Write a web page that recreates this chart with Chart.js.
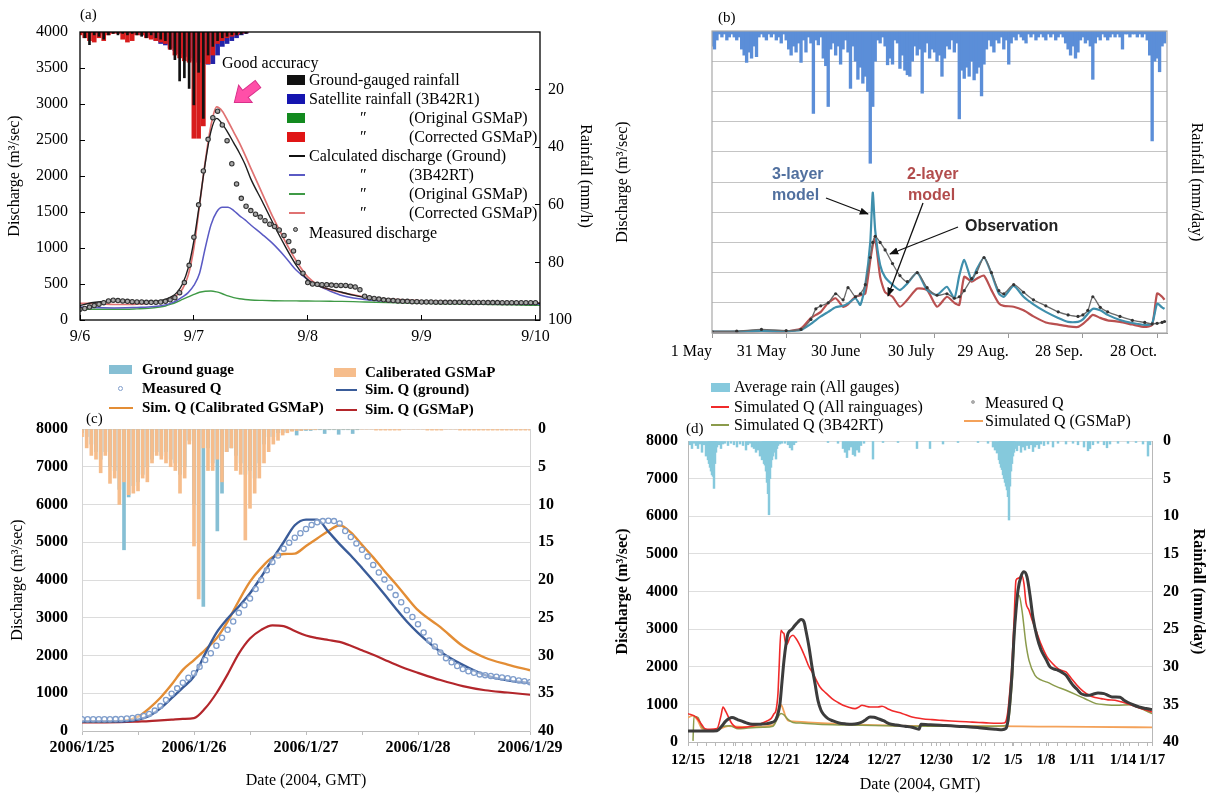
<!DOCTYPE html>
<html><head><meta charset="utf-8">
<script src="https://cdn.jsdelivr.net/npm/chart.js@4.4.1/dist/chart.umd.min.js"></script>
<style>
html,body{margin:0;padding:0;background:#fff;}
#wrap{position:relative;width:1208px;height:795px;overflow:hidden;font-family:'Liberation Serif','Times New Roman',serif;color:#000;}
canvas{position:absolute;}
.t{position:absolute;white-space:nowrap;line-height:1;transform:translateY(-50%);font-size:16px;}
.s{position:absolute;}
</style></head><body><div id="wrap">
<canvas id="ca" width="600" height="350" style="left:0;top:0"></canvas>
<canvas id="cb" width="608" height="370" style="left:600px;top:0"></canvas>
<canvas id="cc" width="600" height="440" style="left:0;top:355px"></canvas>
<canvas id="cd" width="608" height="425" style="left:600px;top:370px"></canvas>
</div>
<script>
// ---------------- Panel (a) data ----------------
const aTickDay = [0,1,2,3,4];
const aTickLab = ['9/6','9/7','9/8','9/9','9/10'];
const aT = [0,0.1,0.2,0.3,0.4,0.5,0.6,0.7,0.75,0.8,0.85,0.9,0.95,1.0,1.05,1.1,1.15,1.2,1.25,1.3,1.35,1.4,1.45,1.5,1.6,1.7,1.8,1.9,2.0,2.1,2.2,2.3,2.4,2.5,2.6,2.8,3.0,3.2,3.4,3.6,3.8,4.0,4.04];
const aQGround = [200,240,255,262,258,252,250,268,285,320,380,500,720,1100,1620,2180,2620,2800,2720,2600,2460,2320,2160,1960,1650,1330,1030,760,560,470,425,385,345,315,295,272,260,252,246,240,235,232,232];
const aQCorr = [230,232,222,215,215,220,230,250,270,300,345,430,620,1000,1600,2200,2700,2960,2900,2760,2610,2460,2290,2110,1760,1410,1100,820,600,480,420,380,350,322,302,282,266,256,250,245,240,236,236];
const aQ3B42 = [180,175,170,168,170,175,180,195,210,235,270,320,380,480,650,1000,1320,1500,1565,1565,1520,1450,1390,1320,1190,1050,880,690,560,470,400,340,305,285,270,255,245,238,232,228,224,220,220];
const aQOrig = [150,150,150,150,150,155,162,180,195,220,250,285,320,355,385,400,403,390,365,335,310,295,285,278,272,268,266,265,264,262,260,258,255,250,246,240,232,226,220,215,210,205,205];
const aMeasStep = 1/24; // hourly
const aMeasQ = [150,160,180,200,220,240,265,275,270,265,260,255,250,250,245,245,245,250,260,280,310,380,520,760,1150,1600,2070,2510,2810,2900,2710,2490,2170,1890,1690,1580,1520,1470,1430,1380,1330,1300,1250,1175,1090,960,800,650,520,500,495,490,490,485,480,480,480,470,460,420,330,310,300,290,280,275,270,265,260,260,255,255,250,250,250,248,248,246,246,245,245,245,244,244,243,243,242,242,242,241,241,240,240,240,240,240,240];
const aRainStep = 1/24; // hourly (mm/h)
const aRainGround = [0,2,4.4,1,1.5,2.5,1,0.5,1,0.5,1,0.5,1,1.5,2,1,2,2.5,3,6,9.6,17,15.9,19.6,25.3,14,30,8,5,3,2,1.5,1,1,0.8,0.5];
const aRainSat = [0,0,0.3,0.5,0.3,0.5,0.3,0.2,0.3,0.5,0.5,0.8,0.5,1,1.5,2,3,4,4.5,5.5,6.5,7.5,8.5,9,10,10.5,11,11.2,11,8,5,4,3,2,1,0.5];
const aRainCorr = [1,2,3,3.5,2,3,1,0.5,0.5,2.5,3.5,3,1,1,2,2.5,3,3.5,4,6,8,9,10,10.5,36.9,36.9,32.6,11,8,4,3,2,1.5,1,0.5,0.3];

// ---------------- Panel (b) data ----------------
const bTickDay = [0,30,60,90,120,150,180];
const bTickLab = ['1 May','31 May','30 June','30 July','29 Aug.','28 Sep.','28 Oct.'];
const bDays = [0,10,20,30,36,40,42,44,47,50,53,55,58,60,62,64,65,66,68,70,73,76,79,83,87,91,95,98,100,102,105,107,110,113,116,118,122,126,130,135,140,144,148,150,152,154,157,160,165,170,175,178,180,182,183];
const b3Layer = [0.05,0.05,0.07,0.06,0.1,0.3,0.43,0.55,0.7,0.85,0.9,0.98,1.15,0.93,1.6,3.0,4.65,3.4,2.25,1.85,1.6,1.42,1.64,2.0,1.42,1.26,1.53,1.15,1.9,2.42,1.75,2.1,2.5,1.97,1.31,1.2,1.56,1.2,0.95,0.7,0.5,0.37,0.37,0.45,0.64,0.8,0.75,0.6,0.43,0.33,0.27,0.32,0.97,0.85,0.8];
const b2Layer = [0.04,0.04,0.06,0.05,0.15,0.5,0.6,0.7,1.0,1.15,0.87,0.95,1.2,1.25,1.31,2.4,2.9,3.13,1.86,1.35,1.2,0.87,1.1,1.47,1.42,0.87,1.2,1.0,0.93,1.86,1.7,1.8,1.9,1.42,0.98,0.9,0.87,0.75,0.55,0.35,0.28,0.22,0.2,0.3,0.45,0.6,0.5,0.42,0.37,0.28,0.2,0.27,1.31,1.2,1.1];
const bObs = [0.05,0.06,0.12,0.08,0.12,0.45,0.8,0.9,1.0,1.3,1.1,1.5,1.2,1.3,1.6,2.5,3.0,3.2,3.0,2.75,2.3,1.9,1.7,2.0,1.5,1.25,1.3,1.15,1.2,1.4,1.8,2.0,2.5,2.0,1.4,1.3,1.6,1.35,1.1,0.9,0.7,0.6,0.55,0.6,0.75,1.2,0.85,0.7,0.55,0.42,0.35,0.3,0.32,0.35,0.38];
const bRainDaily = [
0.5,0.6,0.3,0.1,0.2,0.1,0.3,0.2,0.1,0.2,
0.3,0.2,0.6,0.8,1.04,0.7,0.9,0.5,0.85,0.2,
0.1,0.2,0.3,0.1,0.2,0.1,0.3,0.2,0.4,0.1,
0.3,0.6,0.8,0.5,0.7,0.4,1.04,0.3,0.7,0.2,
0.4,2.73,0.3,0.46,0.2,0.9,1.15,2.5,0.6,0.4,
0.8,0.5,1.1,0.6,0.3,0.7,1.9,0.5,1.0,1.6,
1.2,1.73,1.5,2.0,4.38,2.5,1.0,0.3,0.4,0.2,
0.5,1.12,0.9,1.1,0.3,0.4,1.24,0.8,1.3,1.45,
1.5,1.0,0.5,0.8,0.6,2.06,0.7,0.4,0.9,0.6,
0.7,1.0,0.8,1.5,0.9,0.5,0.6,0.3,0.7,0.4,
2.91,1.3,1.57,1.2,1.5,1.0,1.62,1.4,1.2,2.15,
1.1,0.6,0.3,0.5,0.7,0.3,0.4,0.2,0.6,0.3,
1.1,0.4,0.2,0.3,0.1,0.2,0.3,0.4,0.1,0.2,
0.1,0.3,0.2,0.1,0.2,0.3,0.1,0.2,0.1,0.3,
0.2,0.1,0.2,0.4,0.6,0.8,0.5,0.9,0.7,0.3,
0.2,0.4,0.3,0.5,1.6,0.4,0.2,0.3,0.1,0.2,
0.3,0.2,0.1,0.2,0.1,0.2,0.6,0.1,0.1,0.2,
0.1,0.1,0.2,0.1,0.2,0.1,0.3,0.8,3.64,1.0,
0.9,1.35,0.5,0.4];

// ---------------- Panel (c) data ----------------
const cTickDay = [0,1,2,3,4];
const cTickLab = ['2006/1/25','2006/1/26','2006/1/27','2006/1/28','2006/1/29'];
const cT = [0,0.2,0.4,0.5,0.6,0.7,0.8,0.9,1.0,1.1,1.2,1.3,1.4,1.5,1.6,1.7,1.8,1.9,2.0,2.1,2.2,2.3,2.4,2.5,2.6,2.7,2.8,2.9,3.0,3.2,3.4,3.6,3.8,4.0];
const cQGround = [250,250,260,300,400,600,870,1150,1450,2050,2600,2980,3300,3650,4080,4550,5000,5450,5600,5600,5280,4950,4650,4320,3980,3620,3250,2900,2600,2100,1750,1480,1340,1270];
const cQCal = [250,250,280,380,600,880,1230,1620,1880,2150,2450,2900,3450,3956,4320,4600,4690,4700,4900,5100,5300,5450,5260,4930,4600,4240,3900,3540,3200,2750,2250,1940,1760,1610];
const cQGsmap = [230,230,240,250,260,280,300,320,340,600,1000,1500,2050,2450,2680,2800,2780,2650,2530,2460,2410,2360,2260,2140,2020,1890,1760,1640,1540,1350,1190,1080,1020,960];
const cMeasStep = 0.05;
const cMeasQ = [310,310,310,310,310,310,315,320,330,345,370,400,450,540,660,820,990,1130,1280,1410,1530,1700,1880,2060,2260,2470,2680,2900,3130,3330,3510,3760,4000,4260,4480,4650,4830,4990,5120,5240,5350,5460,5530,5560,5570,5560,5500,5300,5140,4970,4800,4620,4400,4200,4010,3800,3600,3410,3200,3020,2830,2610,2400,2240,2080,1930,1820,1720,1640,1580,1540,1500,1480,1460,1440,1420,1400,1370,1340,1320,1290];
const cRainStep = 1/24; // hourly (mm/h)
const cRainCal = [1,2.5,3.5,4,5.8,3.5,7.2,6.5,10,7,8.7,8.5,8.2,6.5,7,4.5,3.5,4,4.5,5,5.5,8.5,6.5,2,15.5,22.5,2.5,5.5,5.5,4,7,3,2.5,5.5,6,14.7,10.5,8.5,6.5,4.5,3,2,1.5,0.8,0.5,0.3,0.2,0.2,0.1,0.1,0.1,0,0,0,0,0,0,0,0,0,0,0,0,0.15,0.15,0.15,0.15,0.15,0.15,0,0,0,0,0,0.15,0.15,0.15,0.15,0,0,0,0.15,0.15,0.15,0.15,0.15,0.15,0.15,0.15,0.15,0.15,0.15,0.15,0.15,0.15,0.15,0.15];
const cRainGround = [0.5,1,2,3,4,3,5,5.5,8,16,9,7.5,7,6,5,4,3,3.5,3,4,4.5,6,5,1.5,10,15,23.5,2.5,4.5,13.5,8.5,3,2.5,3.5,4.5,6,5.5,6.5,4.5,2,1,1,0.5,0.5,0.3,0.2,0.8,0.2,0.2,0.2,0.1,0.1,0.6,0.1,0.1,0.7,0.1,0.1,0.6,0.1];

// ---------------- Panel (d) data (x = record number) ----------------
const dTickRec = [0,47,95,144,196,248,293,325,358,394,435,464];
const dTickLab = ['12/15','12/18','12/21','12/24','12/27','12/30','1/2','1/5','1/8','1/11','1/14','1/17'];
const dMeasRec = [0,10,20,29,33,38,44,50,56,62,67,73,79,84,88,92,94,96,98,100,104,107,110,113,116,118,121,124,127,130,133,136,140,145,151,158,164,170,174,178,182,186,190,196,201,208,217,224,231,233,240,247,255,263,272,282,291,301,308,314,318,320,322,324,326,328,330,333,336,339,342,345,349,353,358,362,366,370,374,378,382,385,389,393,397,401,405,410,416,420,424,428,432,436,440,445,451,458,464];
const dMeasQ = [293,290,290,300,400,560,650,590,532,480,470,475,488,520,600,1020,1600,2173,2600,2882,3000,3104,3190,3255,3193,2950,2528,2000,1552,1100,843,720,621,560,505,480,470,490,532,600,665,660,621,560,488,450,417,390,340,470,460,450,440,430,415,400,380,355,340,328,360,576,1100,1800,2794,3500,4035,4400,4523,4390,3900,3300,2794,2450,2200,1996,1940,1907,1850,1774,1620,1508,1400,1286,1250,1242,1270,1300,1286,1240,1197,1197,1190,1110,1050,990,931,890,860];
const dAllRec = [0,8,14,17,22,29,33,35,38,44,50,59,71,79,83,86,88,90,91,93,95,96,97,99,102,105,108,111,114,117,121,125,132,138,144,150,155,160,167,171,174,178,182,186,190,194,200,205,214,224,234,244,254,263,272,282,291,301,310,316,318,320,322,324,326,328,330,332,334,336,338,341,344,348,353,359,364,370,374,378,383,389,395,401,407,413,420,427,433,439,446,452,458,464];
const dAllQ = [754,665,450,355,340,355,700,931,798,488,381,400,470,560,621,750,843,1300,1907,2971,2900,2882,2700,2599,2780,2838,2750,2616,2450,2262,2000,1818,1463,1300,1153,1050,976,930,887,930,976,950,931,931,931,949,880,825,760,665,620,594,575,559,545,532,520,505,500,505,560,843,1400,2084,3200,4300,4350,4380,4420,4200,3700,3503,3250,2971,2600,2262,2100,1951,1900,1862,1700,1508,1350,1242,1180,1153,1120,1109,1070,1020,960,900,850,798];
const dTrmmRec = [5,6,10,14,20,28,35,42,50,60,75,85,89,91,93,96,100,105,115,130,160,200,230,260,300,316,320,324,328,331,334,338,341,347,353,359,368,378,388,397,408,418,428,443,452,464];
const dTrmmQ = [30,680,650,400,300,320,420,430,350,370,390,420,600,700,760,720,600,520,500,470,450,430,420,420,420,430,500,1500,3500,3900,3500,2600,2170,1770,1650,1590,1480,1375,1260,1150,1020,990,976,990,900,754];
const dGsmRec = [0,5,10,14,20,30,40,60,85,88,90,92,94,96,98,101,105,120,150,200,250,300,350,400,464];
const dGsmQ = [650,700,560,350,300,330,420,400,450,600,850,1000,950,800,650,560,550,520,480,440,420,420,410,400,390];
const dRainRec = [2,4,6,8,10,12,14,16,18,20,21,22,23,24,25,26,27,28,29,31,33,35,37,40,43,46,49,52,55,58,60,62,64,66,68,70,72,74,75,76,77,78,79,80,81,82,83,84,85,86,87,88,89,90,92,94,97,100,102,104,106,108,140,150,155,157,159,161,163,165,167,169,171,173,176,185,195,210,229,242,255,270,290,300,305,307,309,311,312,313,314,315,316,317,318,319,320,321,322,323,324,325,326,327,329,331,333,335,337,339,341,343,345,347,349,351,353,356,360,365,370,378,385,390,396,400,402,405,410,416,419,422,430,440,448,455,460,462];
const dRainMm = [0.5,1.0,0.3,0.6,1.0,0.4,1.5,0.5,2.0,2.5,3.0,3.5,4.0,4.5,4.7,6.3,3.0,1.5,0.8,0.5,1.0,0.4,0.3,0.6,0.3,0.5,0.8,0.4,0.6,1.2,0.5,0.3,0.8,1.0,1.5,1.2,2.0,2.5,1.8,3.0,3.2,4.0,5.5,7.0,9.8,5.0,3.5,2.5,2.0,1.5,1.2,2.4,1.0,0.6,0.4,0.3,0.3,0.5,0.9,1.2,0.5,0.2,0.2,0.3,1.0,1.5,2.2,1.2,0.8,1.8,2.0,1.2,1.5,0.6,0.3,2.4,0.2,0.2,1.0,1.0,0.4,0.2,0.2,0.3,0.8,1.2,1.6,2.5,3.0,3.5,3.8,4.5,5.0,5.5,6.0,6.5,7.4,10.5,6.0,4.0,3.0,2.0,1.5,1.0,1.3,0.6,1.5,0.8,1.2,0.6,1.0,0.5,1.4,0.8,0.5,1.0,0.4,0.6,0.4,0.8,0.3,0.4,0.3,0.5,0.8,1.3,1.0,0.5,0.3,0.5,0.9,0.4,0.3,0.3,0.2,0.4,2.0,0.5];

// ---------------- helpers ----------------
const xy = (xs, ys) => ys.map((y, i) => ({x: xs[i], y}));
const stepped = (vals, step) => vals.map((y, i) => ({x: i * step, y}));
const SERIF = "'Liberation Serif','Times New Roman',serif";
Chart.defaults.font.family = SERIF;
Chart.defaults.font.size = 16;
Chart.defaults.color = '#000';
Chart.defaults.animation = false;
Chart.defaults.responsive = false;
Chart.defaults.devicePixelRatio = 1;
Chart.defaults.plugins.legend.display = false;
Chart.defaults.plugins.tooltip.enabled = false;
Chart.defaults.elements.point.radius = 0;
Chart.defaults.elements.line.borderJoinStyle = 'round';

Chart.register({
  id: 'frame',
  afterDraw(chart, args, o) {
    if (!o || !o.color) return;
    const {ctx, chartArea: a} = chart;
    ctx.save();
    ctx.strokeStyle = o.color; ctx.lineWidth = o.width || 1;
    ctx.strokeRect(a.left, a.top, a.right - a.left, a.bottom - a.top);
    ctx.restore();
  }
});
const W = w => s => { s.width = w; };
const H = h => s => { s.height = h; };
const num = v => String(v);

// ---------------- Panel (a) ----------------
new Chart(document.getElementById('ca'), {
  type: 'line',
  data: {datasets: [
    {data: stepped(aMeasQ, aMeasStep), showLine: false, pointRadius: 2.2, pointBorderWidth: 1.1, pointBorderColor: '#333', pointBackgroundColor: '#a8a8a8', yAxisID: 'y'},
    {data: xy(aT, aQGround), borderColor: '#1e1e1e', borderWidth: 1.4, cubicInterpolationMode: 'monotone', yAxisID: 'y'},
    {data: xy(aT, aQCorr), borderColor: '#e07272', borderWidth: 1.7, cubicInterpolationMode: 'monotone', yAxisID: 'y'},
    {data: xy(aT, aQ3B42), borderColor: '#5a5ac4', borderWidth: 1.5, cubicInterpolationMode: 'monotone', yAxisID: 'y'},
    {data: xy(aT, aQOrig), borderColor: '#3f9a46', borderWidth: 1.4, cubicInterpolationMode: 'monotone', yAxisID: 'y'},
    {type: 'bar', data: stepped(aRainGround, aRainStep), backgroundColor: '#111', barThickness: 2, grouped: false, yAxisID: 'y2'},
    {type: 'bar', data: stepped(aRainCorr, aRainStep), backgroundColor: '#d81c1c', barThickness: 4, grouped: false, yAxisID: 'y2'},
    {type: 'bar', data: stepped(aRainSat, aRainStep), backgroundColor: '#2424a8', barThickness: 4, grouped: false, yAxisID: 'y2'}
  ]},
  options: {
    layout: {padding: {top: 32, left: 0, right: 0, bottom: 0}},
    scales: {
      x: {type: 'linear', offset: false, min: 0, max: 4.04, afterFit: H(30),
          afterBuildTicks: s => { s.ticks = aTickDay.map(v => ({value: v})); },
          ticks: {callback: v => aTickLab[aTickDay.indexOf(v)] ?? '', padding: 12, autoSkip: false, maxRotation: 0},
          grid: {offset: false, drawOnChartArea: false, tickLength: -5, color: '#000'}, border: {display: false}},
      y: {min: 0, max: 4000, afterFit: W(80),
          ticks: {stepSize: 500, callback: num, padding: 17},
          grid: {drawOnChartArea: false, tickLength: -5, color: '#000'}, border: {display: false},
          title: {display: true, text: 'Discharge (m³/sec)', font: {size: 16}, padding: {top: 5}}},
      y2: {position: 'right', reverse: true, min: 0, max: 100, afterFit: W(60),
          afterBuildTicks: s => { s.ticks = [20,40,60,80,100].map(v => ({value: v})); },
          ticks: {callback: num, padding: 13},
          grid: {drawOnChartArea: false, tickLength: -5, color: '#000'}, border: {display: false},
          title: {display: true, text: 'Rainfall (mm/h)', font: {size: 16}, padding: {top: 5}}}
    },
    plugins: {frame: {color: '#000', width: 1.3}}
  }
});

// ---------------- Panel (b) ----------------
new Chart(document.getElementById('cb'), {
  type: 'line',
  data: {datasets: [
    {data: xy(bDays, bObs), borderColor: '#6a6a6a', borderWidth: 1.3, pointRadius: 1.6, pointBackgroundColor: '#333', pointBorderWidth: 0, tension: 0.25, yAxisID: 'y'},
    {data: xy(bDays, b3Layer), borderColor: '#3f8fac', borderWidth: 2.2, tension: 0.2, yAxisID: 'y'},
    {data: xy(bDays, b2Layer), borderColor: '#b95050', borderWidth: 2.2, tension: 0.2, yAxisID: 'y'},
    {type: 'bar', data: stepped(bRainDaily, 1), backgroundColor: '#5b8ed8', barThickness: 2.7, yAxisID: 'y2'}
  ]},
  options: {
    layout: {padding: {top: 31, left: 0, right: 0, bottom: 0}},
    scales: {
      x: {type: 'linear', offset: false, min: 0, max: 184, afterFit: H(37),
          afterBuildTicks: s => { s.ticks = bTickDay.map(v => ({value: v})); },
          ticks: {callback: v => bTickLab[bTickDay.indexOf(v)] ?? '', align: 'end', padding: 4, autoSkip: false, maxRotation: 0},
          grid: {offset: false, drawOnChartArea: false, tickLength: 5, color: '#999'}, border: {color: '#999'}},
      y: {min: 0, max: 10, afterFit: W(112), ticks: {display: false, stepSize: 1},
          grid: {color: '#c4c4c4', drawTicks: false}, border: {display: false},
          title: {display: true, text: 'Discharge (m³/sec)', font: {size: 16}, padding: {top: 13}}},
      y2: {position: 'right', reverse: true, min: 0, max: 10, afterFit: W(41), ticks: {display: false},
          grid: {display: false}, border: {display: false},
          title: {display: true, text: 'Rainfall (mm/day)', font: {size: 16}, padding: {top: 2}}}
    },
    plugins: {frame: {color: '#a8a8a8', width: 1.2}}
  }
});

// ---------------- Panel (c) ----------------
new Chart(document.getElementById('cc'), {
  type: 'line',
  data: {datasets: [
    {data: stepped(cMeasQ, cMeasStep), showLine: false, pointRadius: 2.6, pointBorderWidth: 1.3, pointBorderColor: '#7f9dcb', pointBackgroundColor: 'rgba(255,255,255,0.5)', yAxisID: 'y'},
    {data: xy(cT, cQGround), borderColor: '#3a5c99', borderWidth: 2.4, cubicInterpolationMode: 'monotone', yAxisID: 'y'},
    {data: xy(cT, cQCal), borderColor: '#e38d35', borderWidth: 2.4, cubicInterpolationMode: 'monotone', yAxisID: 'y'},
    {data: xy(cT, cQGsmap), borderColor: '#b3262b', borderWidth: 2.2, cubicInterpolationMode: 'monotone', yAxisID: 'y'},
    {type: 'bar', data: stepped(cRainCal, cRainStep), backgroundColor: '#f6bd8c', barThickness: 3, grouped: false, yAxisID: 'y2'},
    {type: 'bar', data: stepped(cRainGround, cRainStep), backgroundColor: '#86bfd4', barThickness: 3, grouped: false, yAxisID: 'y2'}
  ]},
  options: {
    layout: {padding: {top: 74, left: 0, right: 0, bottom: 0}},
    scales: {
      x: {type: 'linear', offset: false, min: 0, max: 4, afterFit: H(64),
          ticks: {stepSize: 0.5, callback: v => Number.isInteger(v) ? cTickLab[v] : '', padding: 3, autoSkip: false, maxRotation: 0, font: {weight: 'bold'}},
          grid: {offset: false, drawOnChartArea: false, tickLength: 4, color: '#bdbdbd'}, border: {color: '#bdbdbd'},
          title: {display: true, text: 'Date (2004, GMT)', font: {size: 16}, padding: {bottom: 5}}},
      y: {min: 0, max: 8000, afterFit: W(82),
          ticks: {stepSize: 1000, callback: num, padding: 14, font: {weight: 'bold'}},
          grid: {color: '#dcdcdc', drawTicks: false}, border: {color: '#d4d4d4'},
          title: {display: true, text: 'Discharge (m³/sec)', font: {size: 16}, padding: {top: 8}}},
      y2: {position: 'right', reverse: true, min: 0, max: 40, afterFit: W(70),
          ticks: {stepSize: 5, callback: num, padding: 8, font: {weight: 'bold'}},
          grid: {drawOnChartArea: false, drawTicks: false}, border: {color: '#d4d4d4'}}
    }
  }
});

// ---------------- Panel (d) ----------------
new Chart(document.getElementById('cd'), {
  type: 'line',
  data: {datasets: [
    {data: xy(dMeasRec, dMeasQ), borderColor: '#3c3c3c', borderWidth: 3, cubicInterpolationMode: 'monotone', yAxisID: 'y'},
    {data: xy(dAllRec, dAllQ), borderColor: '#f02a2a', borderWidth: 1.6, cubicInterpolationMode: 'monotone', yAxisID: 'y'},
    {data: xy(dTrmmRec, dTrmmQ), borderColor: '#8b9b4c', borderWidth: 1.5, cubicInterpolationMode: 'monotone', yAxisID: 'y'},
    {data: xy(dGsmRec, dGsmQ), borderColor: '#f4a25a', borderWidth: 1.8, cubicInterpolationMode: 'monotone', yAxisID: 'y'},
    {type: 'bar', data: xy(dRainRec, dRainMm), backgroundColor: '#86c9dd', barThickness: 1.8, yAxisID: 'y2'}
  ]},
  options: {
    layout: {padding: {top: 71, left: 0, right: 0, bottom: 0}},
    scales: {
      x: {type: 'linear', offset: false, min: 0, max: 464, afterFit: H(53),
          afterBuildTicks: s => {
            const t = dTickRec.slice();
            for (let k = 9; k < 464; k += 9) t.push(k);
            t.sort((p, q) => p - q);
            s.ticks = t.map(v => ({value: v}));
          },
          ticks: {callback: v => dTickRec.includes(v) ? dTickLab[dTickRec.indexOf(v)] : '', padding: 5, autoSkip: false, maxRotation: 0, font: {size: 15, weight: 'bold'}},
          grid: {offset: false, drawOnChartArea: false, tickLength: 4, color: '#b8b8b8'}, border: {color: '#b8b8b8'},
          title: {display: true, text: 'Date (2004, GMT)', font: {size: 16}, padding: {bottom: 1}}},
      y: {min: 0, max: 8000, afterFit: W(88),
          ticks: {stepSize: 1000, callback: num, padding: 10, font: {weight: 'bold'}},
          grid: {color: '#dedede', drawTicks: false}, border: {color: '#b8b8b8'},
          title: {display: true, text: 'Discharge (m³/sec)', font: {size: 16, weight: 'bold'}, padding: {top: 13}}},
      y2: {position: 'right', reverse: true, min: 0, max: 40, afterFit: W(56),
          ticks: {stepSize: 5, callback: num, padding: 11, font: {weight: 'bold'}},
          grid: {drawOnChartArea: false, drawTicks: false}, border: {color: '#b8b8b8'},
          title: {display: true, text: 'Rainfall (mm/day)', font: {size: 16, weight: 'bold'}, padding: {top: 0}}}
    }
  }
});

// ---------------- overlays (legends, labels, annotations) ----------------
const wrap = document.getElementById('wrap');
function T(x, y, s, css) { const d = document.createElement('div'); d.className = 't'; d.style.left = x + 'px'; d.style.top = y + 'px'; d.textContent = s; if (css) d.style.cssText += ';' + css; wrap.appendChild(d); return d; }
function B(x, y, w, h, c) { const d = document.createElement('div'); d.className = 's'; d.style.cssText = `left:${x}px;top:${y}px;width:${w}px;height:${h}px;background:${c}`; wrap.appendChild(d); }
function L(x1, x2, y, c, w) { B(x1, y - w / 2, x2 - x1, w, c); }
function D(cx, cy, r, stroke, fill, bw) { const d = document.createElement('div'); d.className = 's'; d.style.cssText = `left:${cx - r}px;top:${cy - r}px;width:${2 * r - 2 * bw}px;height:${2 * r - 2 * bw}px;border:${bw}px solid ${stroke};border-radius:50%;background:${fill}`; wrap.appendChild(d); }

// (a)
T(80, 14, '(a)', 'font-size:15px');
T(222, 63, 'Good accuracy');
B(287, 75, 18, 10, '#111'); T(309, 80, 'Ground-gauged rainfall');
B(287, 94, 18, 10, '#1515b0'); T(309, 99, 'Satellite rainfall (3B42R1)');
B(287, 113, 18, 10, '#138a1f'); T(359, 118, '″', 'font-style:italic'); T(409, 118, '(Original GSMaP)');
B(287, 132, 18, 10, '#e01515'); T(359, 137, '″', 'font-style:italic'); T(409, 137, '(Corrected GSMaP)');
L(289, 305, 156, '#111', 1.5); T(309, 156, 'Calculated discharge (Ground)');
L(289, 305, 175, '#5a5ac4', 1.5); T(359, 175, '″', 'font-style:italic'); T(409, 175, '(3B42RT)');
L(289, 305, 194, '#3f9a46', 1.5); T(359, 194, '″', 'font-style:italic'); T(409, 194, '(Original GSMaP)');
L(289, 305, 213, '#e07272', 1.5); T(359, 213, '″', 'font-style:italic'); T(409, 213, '(Corrected GSMaP)');
D(295, 229, 2.5, '#333', '#a8a8a8', 1); T(309, 233, 'Measured discharge');

// (b)
T(718, 17, '(b)', 'font-size:15px');
const SANS = "font-family:'Liberation Sans',Arial,sans-serif;font-weight:bold;font-size:16px;";
T(772, 174, '3-layer', SANS + 'color:#51709f');
T(772, 195, 'model', SANS + 'color:#51709f');
T(907, 174, '2-layer', SANS + 'color:#b24c4c');
T(908, 195, 'model', SANS + 'color:#b24c4c');
T(965, 226, 'Observation', SANS + 'color:#222');

// (c)
T(86, 418, '(c)', 'font-size:15px');
const CB = 'font-weight:bold;font-size:15px';
B(109, 365, 23, 9, '#86bfd4'); T(142, 369, 'Ground guage', CB);
D(121, 389, 2.6, '#7f9dcb', '#fff', 1.2); T(142, 388, 'Measured Q', CB);
L(109, 133, 408, '#e38d35', 2.5); T(142, 407, 'Sim. Q (Calibrated GSMaP)', CB);
B(334, 368, 22, 9, '#f6bd8c'); T(365, 372, 'Caliberated GSMaP', CB);
L(336, 357, 390, '#3a5c99', 2.5); T(365, 389, 'Sim. Q (ground)', CB);
L(336, 357, 410, '#b3262b', 2.5); T(365, 409, 'Sim. Q (GSMaP)', CB);

// (d)
T(686, 428, '(d)', 'font-size:15px');
B(711, 383, 19, 9, '#86c9dd'); T(734, 387, 'Average rain (All gauges)');
L(711, 729, 407, '#f02a2a', 2.5); T(734, 407, 'Simulated Q (All rainguages)');
L(711, 729, 425, '#8b9b4c', 2.5); T(734, 425, 'Simulated Q (3B42RT)');
D(973, 402, 2, '#aaa', '#aaa', 1); T(985, 403, 'Measured Q');
L(964, 983, 421, '#f4a25a', 2.5); T(985, 421, 'Simulated Q (GSMaP)');

// arrows (svg)
const svgNS = 'http://www.w3.org/2000/svg';
const svg = document.createElementNS(svgNS, 'svg');
svg.setAttribute('width', '1208'); svg.setAttribute('height', '795');
svg.style.cssText = 'position:absolute;left:0;top:0;pointer-events:none';
svg.innerHTML = `
<defs><marker id="ah" viewBox="0 0 10 10" refX="9" refY="5" markerWidth="7" markerHeight="7" orient="auto-start-reverse"><path d="M0,1 L10,5 L0,9 z" fill="#111"/></marker></defs>
<g transform="translate(258,84) rotate(142)"><polygon points="0,-4.5 16,-4.5 16,-11 30,0 16,11 16,4.5 0,4.5" fill="#ff4fa8" stroke="#d8308a" stroke-width="1"/></g>
<line x1="826" y1="198" x2="868" y2="214" stroke="#111" stroke-width="1.3" marker-end="url(#ah)"/>
<line x1="923" y1="203" x2="888" y2="296" stroke="#111" stroke-width="1.3" marker-end="url(#ah)"/>
<line x1="958" y1="227" x2="890" y2="254" stroke="#111" stroke-width="1.3" marker-end="url(#ah)"/>`;
wrap.appendChild(svg);
</script></body></html>
